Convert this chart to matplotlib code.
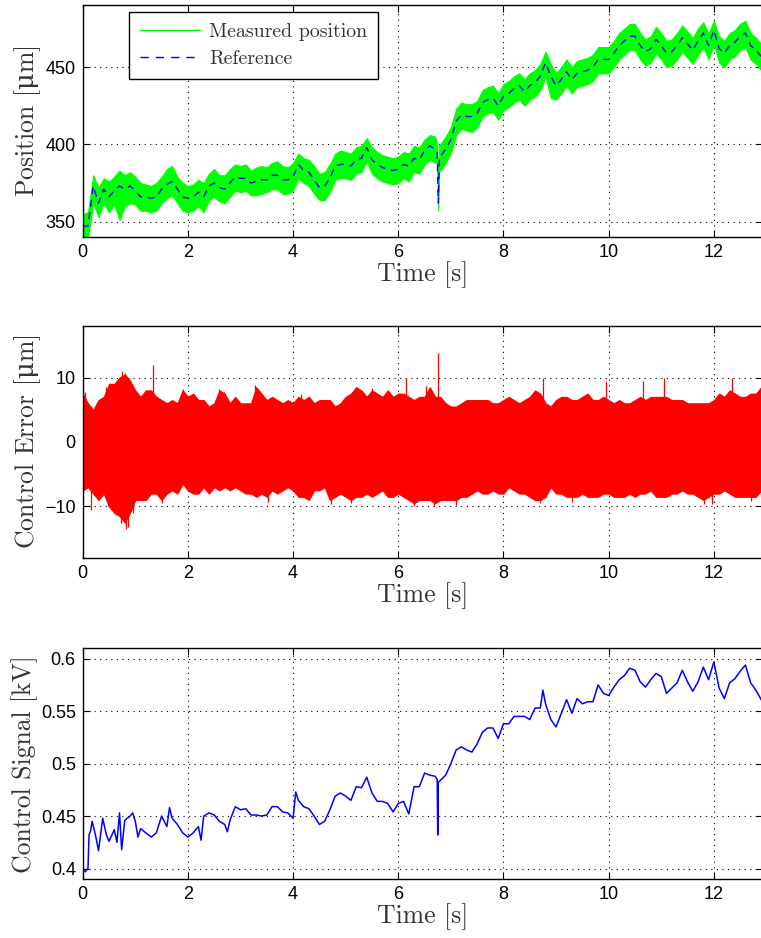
import numpy as np
import matplotlib
matplotlib.use("Agg")
import matplotlib.pyplot as plt
from matplotlib.lines import Line2D

# ---- data ----
t10 = np.round(np.arange(0, 12.95, 0.1), 2)  # 0.0 ... 12.9

pos_ref = [347, 347, 373, 362, 371, 366, 370, 373, 371, 373,
           370, 366, 366, 365, 366, 371, 374, 376, 371, 366,
           365, 366, 369, 366, 373, 375, 372, 371, 375, 379,
           378, 378, 375, 376, 377, 377, 380, 380, 377, 377,
           379, 387, 383, 382, 377, 372, 373, 378, 386, 387,
           387, 386, 390, 391, 398, 390, 387, 385, 384, 383,
           384, 387, 386, 391, 390, 396, 399, 397, 392, 397,
           403, 415, 419, 418, 418, 420, 427, 429, 430, 425,
           431, 433, 436, 438, 434, 438, 440, 444, 453, 444,
           438, 442, 447, 442, 446, 447, 448, 450, 455, 455,
           455, 459, 464, 467, 470, 470, 464, 460, 462, 468,
           464, 459, 460, 464, 469, 465, 461, 467, 472, 464,
           474, 462, 459, 464, 466, 470, 472, 464, 461, 457]
pos_hi = [355, 356, 380, 372, 378, 376, 379, 383, 380, 382,
          379, 375, 374, 373, 375, 379, 384, 386, 379, 375,
          373, 374, 377, 375, 381, 384, 380, 380, 384, 387,
          386, 387, 383, 385, 386, 385, 388, 389, 386, 385,
          388, 394, 391, 390, 386, 381, 382, 387, 394, 396,
          395, 394, 398, 399, 404, 398, 395, 393, 392, 391,
          392, 395, 394, 399, 398, 403, 406, 405, 400, 405,
          411, 423, 427, 426, 426, 428, 435, 437, 438, 433,
          439, 441, 444, 446, 442, 446, 448, 452, 460, 452,
          446, 450, 455, 450, 454, 455, 456, 458, 463, 463,
          463, 467, 472, 475, 478, 478, 472, 468, 470, 476,
          472, 467, 468, 472, 477, 473, 469, 475, 479, 472,
          480, 470, 467, 472, 474, 478, 480, 472, 469, 465]
pos_lo = [340, 339, 362, 353, 362, 356, 361, 351, 360, 362,
          361, 357, 357, 356, 357, 362, 365, 367, 362, 357,
          356, 357, 360, 356, 364, 366, 363, 362, 366, 370,
          369, 370, 367, 367, 368, 369, 371, 371, 368, 368,
          370, 378, 375, 373, 368, 364, 364, 369, 377, 378,
          378, 377, 381, 382, 389, 381, 378, 376, 375, 374,
          375, 378, 376, 382, 381, 387, 390, 388, 383, 388,
          394, 406, 410, 409, 408, 411, 418, 420, 421, 416,
          422, 424, 427, 429, 425, 429, 431, 435, 444, 430,
          429, 433, 438, 433, 437, 438, 439, 441, 446, 446,
          446, 450, 455, 458, 461, 461, 455, 451, 453, 459,
          455, 450, 451, 455, 460, 456, 452, 458, 463, 455,
          465, 453, 450, 455, 457, 461, 463, 455, 452, 448]
# dip near 6.75 s
dip_t = [6.74, 6.76, 6.78]
dip_ref = [395, 362, 392]
dip_hi = [401, 372, 400]
dip_lo = [388, 357, 384]

err_hi = [7.5, 6, 5, 6.5, 7, 9, 9, 10, 10.5, 9.5,
          8, 7, 8, 8, 7, 6.5, 6, 6.5, 6, 8,
          7, 7.5, 6.5, 6.5, 5.5, 6, 8, 7.5, 6, 7,
          6, 6, 6, 8.5, 7.5, 6.5, 7, 6.5, 6, 6.5,
          6, 7, 6.5, 7, 6, 6.5, 6.5, 6.5, 5.5, 6,
          7, 7.5, 8.5, 8, 7, 8, 7.5, 7, 8, 7,
          7.5, 7.5, 7, 6.5, 7, 7, 8.5, 7, 7, 6,
          5.5, 5.5, 6, 6.5, 6.5, 6.5, 6.5, 6.5, 6, 6,
          6.5, 7, 6.5, 6, 6.5, 7, 8, 7.5, 6, 5.5,
          6.5, 7, 7, 6.5, 6.5, 7, 7.5, 6.5, 6.5, 7,
          6.5, 6, 6.5, 6, 6, 6.5, 7, 6.5, 7, 7,
          7, 7, 6.5, 6.5, 6.5, 6, 6, 6, 6, 6,
          6.5, 7.5, 7, 8, 7.5, 7, 7, 7.5, 7.5, 8.5]
err_lo = [-7.5, -7, -8, -9, -8, -10, -11, -11.5, -12.5, -11,
          -9, -9, -9, -8, -8, -9, -8, -7.5, -8, -6.5,
          -7.5, -8, -8, -7, -8, -7, -7.5, -7, -7.5, -7,
          -7.5, -8, -8, -8.5, -8, -8.5, -7.5, -8, -7.5, -7,
          -7.5, -8.5, -8.5, -9, -7.5, -7.5, -7, -9, -8.5, -8,
          -8.5, -9, -8.5, -8.5, -8, -8.5, -8, -7.5, -8.5, -8.5,
          -8, -8.5, -9, -9.5, -9, -9, -9, -9.5, -9, -9,
          -9, -9, -8.5, -8.5, -8, -7.5, -8, -8, -7.5, -8,
          -8, -7, -7.5, -8, -8, -8.5, -9, -9, -8.5, -7,
          -8, -8, -8.5, -8.5, -8.5, -8, -8.5, -8.5, -8.5, -8,
          -8, -8.5, -8.5, -8.5, -8, -8.5, -8, -8, -7.5, -8.5,
          -8.5, -8.5, -8, -8, -7.5, -8, -8, -8.5, -9, -8.5,
          -8, -8, -7.5, -8, -8.5, -8.5, -8.5, -8.5, -8.5, -7.5]
# isolated error spikes
spk_t = [0.05, 0.45, 0.52, 0.62, 0.75, 0.8, 0.88, 1.33, 1.9, 2.6, 2.68,
         3.27, 4.15, 5.2, 5.5, 6.15, 6.52, 6.75, 8.75, 9.95, 10.65, 11.05,
         12.35, 12.9,
         0.15, 0.48, 0.62, 0.72, 0.82, 0.86, 0.95, 1.5, 3.52, 4.72, 5.1,
         6.3, 6.68, 7.1, 8.7, 9.3, 11.82, 11.97, 12.7]
spk_v = [7.8, 8.5, 9.2, 9.0, 11.0, 10.7, 10.0, 12.0, 8.2, 8.2, 7.8,
         8.8, 7.5, 8.5, 8.3, 10.0, 8.7, 13.8, 10.0, 9.5, 9.5, 10.0,
         10.0, 8.5,
         -10.5, -10.0, -11.0, -12.5, -13.5, -13.2, -11.0, -9.5, -9.3, -9.6, -9.5,
         -10.0, -10.0, -9.8, -9.5, -9.3, -9.6, -9.6, -9.2]

sig_t = [0.0, 0.05, 0.1, 0.12, 0.15, 0.18, 0.25, 0.3, 0.38, 0.45, 0.5, 0.6, 0.65,
         0.7, 0.74, 0.8, 0.9, 0.95, 1.0, 1.05, 1.1, 1.2, 1.3, 1.4, 1.5, 1.6, 1.65,
         1.7, 1.8, 1.9, 2.0, 2.1, 2.2, 2.25, 2.3, 2.4, 2.5, 2.6, 2.7, 2.75, 2.8,
         2.9, 3.0, 3.1, 3.2, 3.3, 3.4, 3.5, 3.6, 3.7, 3.8, 3.9, 4.0, 4.05, 4.1,
         4.2, 4.3, 4.4, 4.5, 4.6, 4.7, 4.8, 4.9, 5.0, 5.1, 5.2, 5.3, 5.4, 5.5,
         5.6, 5.7, 5.8, 5.9, 6.0, 6.1, 6.2, 6.3, 6.4, 6.5, 6.6, 6.7, 6.74, 6.75,
         6.76, 6.8, 6.9, 7.0, 7.1, 7.2, 7.3, 7.4, 7.5, 7.6, 7.7, 7.8, 7.9, 8.0,
         8.1, 8.2, 8.3, 8.4, 8.5, 8.6, 8.7, 8.75, 8.8, 8.9, 9.0, 9.1, 9.2, 9.3,
         9.4, 9.5, 9.6, 9.7, 9.8, 9.9, 10.0, 10.1, 10.2, 10.3, 10.4, 10.5, 10.6,
         10.7, 10.8, 10.9, 11.0, 11.1, 11.2, 11.3, 11.4, 11.5, 11.6, 11.7, 11.8,
         11.9, 12.0, 12.1, 12.2, 12.3, 12.4, 12.5, 12.6, 12.7, 12.8, 12.9]
sig_v = [0.398, 0.397, 0.400, 0.432, 0.436, 0.445, 0.430, 0.417, 0.448, 0.432, 0.426, 0.437, 0.425,
         0.453, 0.418, 0.446, 0.450, 0.453, 0.445, 0.430, 0.438, 0.434, 0.430, 0.434, 0.450, 0.440, 0.458,
         0.448, 0.442, 0.434, 0.430, 0.434, 0.440, 0.427, 0.450, 0.453, 0.451, 0.445, 0.442, 0.435, 0.446,
         0.459, 0.456, 0.457, 0.451, 0.451, 0.450, 0.451, 0.459, 0.459, 0.454, 0.453, 0.448, 0.473, 0.465,
         0.459, 0.457, 0.450, 0.442, 0.445, 0.456, 0.469, 0.472, 0.469, 0.465, 0.478, 0.477, 0.487, 0.472,
         0.464, 0.464, 0.462, 0.454, 0.462, 0.464, 0.452, 0.478, 0.478, 0.491, 0.489, 0.488, 0.485, 0.432,
         0.482, 0.484, 0.489, 0.500, 0.513, 0.516, 0.513, 0.511, 0.519, 0.530, 0.534, 0.534, 0.524, 0.538,
         0.538, 0.545, 0.545, 0.545, 0.542, 0.553, 0.553, 0.570, 0.557, 0.542, 0.535, 0.548, 0.561, 0.548,
         0.562, 0.557, 0.559, 0.559, 0.575, 0.567, 0.565, 0.573, 0.580, 0.584, 0.591, 0.589, 0.578,
         0.573, 0.580, 0.586, 0.583, 0.567, 0.572, 0.577, 0.589, 0.578, 0.569, 0.578, 0.592,
         0.580, 0.597, 0.572, 0.562, 0.577, 0.581, 0.588, 0.594, 0.577, 0.570, 0.561]

x_ticks = [0, 2, 4, 6, 8, 10, 12]
pos_ticks = [350, 400, 450]
err_ticks = [-10, 0, 10]
sig_ticks = [0.4, 0.45, 0.5, 0.55, 0.6]
sig_labels = ["0.4", "0.45", "0.5", "0.55", "0.6"]

# ---- style ----
plt.rcParams["font.family"] = ["Liberation Sans", "DejaVu Sans"]
plt.rcParams["mathtext.fontset"] = "custom"
plt.rcParams["mathtext.rm"] = "DejaVu Serif"
lab_font = dict(family=["cmr10", "DejaVu Serif"], size=18.5, color="#333333")
MU = r"$\mathrm{\mu}$"

fig = plt.figure(figsize=(7.61, 9.38), dpi=100)
L, W = 0.1087, 0.8943
ax1 = fig.add_axes([L, 0.7473, W, 0.2470])
ax2 = fig.add_axes([L, 0.4051, W, 0.2474])
ax3 = fig.add_axes([L, 0.0629, W, 0.2460])


def style(ax, yticks, ylabels, ylim, ylabel, label_x=-0.058):
    ax.set_xlim(0, 12.94)
    ax.set_ylim(*ylim)
    ax.set_xticks(x_ticks)
    ax.set_xticklabels([str(v) for v in x_ticks])
    ax.set_yticks(yticks)
    ax.set_yticklabels(ylabels)
    ax.tick_params(direction="in", top=True, right=True, length=5, width=0.8,
                   labelsize=13, colors="black")
    ax.tick_params(axis="x", pad=5)
    ax.tick_params(axis="y", pad=5)
    ax.grid(True, linestyle=(0, (1, 4)), color="black", linewidth=0.8)
    for s in ax.spines.values():
        s.set_linewidth(1.0)
    ax.set_xlabel("Time [s]", labelpad=0, **lab_font)
    ax.set_ylabel(ylabel, **lab_font)
    ax.yaxis.set_label_coords(label_x, 0.5)


# panel 1: position
pt = np.concatenate([t10, dip_t])
order = np.argsort(pt)
pt = pt[order]
p_ref = np.concatenate([pos_ref, dip_ref])[order]
p_hi = np.concatenate([pos_hi, dip_hi])[order]
p_lo = np.concatenate([pos_lo, dip_lo])[order]
ax1.fill_between(pt, p_lo, p_hi, color="#00ff00", linewidth=0.8, zorder=2)
ax1.plot(pt, p_ref, color="#0000ff", linestyle=(0, (5, 4)), linewidth=1.0, zorder=3)
style(ax1, pos_ticks, [str(v) for v in pos_ticks], (340, 490), "Position [" + MU + "m]")
handles = [Line2D([], [], color="#00ff00", lw=1.0),
           Line2D([], [], color="#0000ff", lw=1.0, linestyle=(0, (6, 5)))]
leg = ax1.legend(handles, ["Measured position", "Reference"],
                 loc="upper left", bbox_to_anchor=(0.068, 0.97), fancybox=False,
                 framealpha=1, edgecolor="black", handlelength=3.0,
                 handletextpad=0.5, borderpad=0.55, labelspacing=0.45,
                 borderaxespad=0,
                 prop=dict(family=["cmr10", "DejaVu Serif"], size=14.3))
leg.get_frame().set_linewidth(1.0)
for txt in leg.get_texts():
    txt.set_color("#333333")

# panel 2: control error
ax2.fill_between(t10, err_lo, err_hi, color="#ff0000", linewidth=0.8, zorder=2)
ax2.vlines(spk_t, 0, spk_v, color="#ff0000", linewidth=0.9, zorder=2)
style(ax2, err_ticks, ["\u221210", "0", "10"], (-18, 18), "Control Error [" + MU + "m]")

# panel 3: control signal
ax3.plot(sig_t, sig_v, color="#0000ff", linewidth=1.1, zorder=3)
style(ax3, sig_ticks, sig_labels, (0.39, 0.61), "Control Signal [kV]", label_x=-0.066)

fig.savefig("out.png", dpi=100)
